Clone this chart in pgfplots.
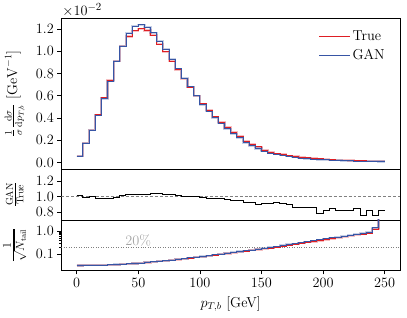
\documentclass[border=0pt]{standalone}
\usepackage{pgfplots}
\pgfplotsset{compat=1.18}
\usepackage{pgfplotstable}
\definecolor{truered}{RGB}{222,30,36}
\definecolor{ganblue}{RGB}{55,85,165}
\newcommand{\fs}{\fontsize{14.5}{17}\selectfont}

% bins of 5 GeV; last row repeats the final bin so const plot closes at 250
% true/gan in units of 1e-2 GeV^-1; nt/ng = 1/sqrt(N_tail)
\pgfplotstableread{
x   true  gan   ratio nt     ng
0   0.056 0.056 1.02  0.0329 0.0329
5   0.174 0.174 0.99  0.0330 0.0330
10  0.289 0.289 1.00  0.0332 0.0332
15  0.430 0.424 0.98  0.0336 0.0336
20  0.582 0.575 0.975 0.0342 0.0342
25  0.741 0.730 0.975 0.0349 0.0349
30  0.912 0.912 0.995 0.0357 0.0358
35  1.044 1.044 1.01  0.0369 0.0370
40  1.133 1.162 1.025 0.0383 0.0384
45  1.183 1.224 1.03  0.0399 0.0401
50  1.203 1.238 1.03  0.0419 0.0421
55  1.186 1.215 1.03  0.0441 0.0444
60  1.145 1.165 1.035 0.0466 0.0469
65  1.062 1.092 1.04  0.0493 0.0497
70  0.994 1.018 1.025 0.0524 0.0529
75  0.909 0.930 1.03  0.0558 0.0564
80  0.836 0.841 1.015 0.0596 0.0603
85  0.752 0.756 1.005 0.0637 0.0645
90  0.677 0.680 1.005 0.0683 0.0693
95  0.600 0.600 1.00  0.0733 0.0745
100 0.529 0.521 0.985 0.0789 0.0803
105 0.471 0.462 0.98  0.0850 0.0867
110 0.411 0.403 0.98  0.0918 0.0938
115 0.364 0.353 0.97  0.0993 0.1017
120 0.314 0.303 0.965 0.1076 0.1104
125 0.273 0.259 0.95  0.117  0.120
130 0.233 0.221 0.95  0.126  0.130
135 0.192 0.179 0.93  0.136  0.141
140 0.161 0.150 0.93  0.147  0.153
145 0.141 0.126 0.895 0.159  0.166
150 0.110 0.100 0.91  0.172  0.180
155 0.093 0.085 0.91  0.186  0.195
160 0.078 0.073 0.93  0.201  0.212
165 0.072 0.065 0.906 0.222  0.236
170 0.062 0.055 0.894 0.243  0.260
175 0.055 0.047 0.855 0.268  0.287
180 0.048 0.041 0.855 0.295  0.316
185 0.042 0.036 0.864 0.324  0.348
190 0.036 0.031 0.855 0.355  0.382
195 0.033 0.026 0.787 0.390  0.420
200 0.029 0.024 0.821 0.428  0.462
205 0.026 0.022 0.851 0.470  0.507
210 0.023 0.019 0.817 0.515  0.556
215 0.021 0.017 0.817 0.565  0.610
220 0.018 0.015 0.817 0.618  0.668
225 0.016 0.014 0.85  0.680  0.735
230 0.016 0.012 0.753 0.745  0.810
235 0.013 0.011 0.821 0.820  0.900
240 0.013 0.010 0.753 1.200  1.380
245 0.011 0.009 0.821 20     20
250 0.011 0.009 0.821 20     20
}\pTb

\begin{document}
\begin{tikzpicture}
\path (0,0) rectangle (407pt,-320pt);
\pgfplotsset{
  panel/.style={
    scale only axis, width=342pt,
    xmin=-12.5, xmax=262.5,
    axis line style={black, line width=0.6pt},
    tick style={black, line width=0.6pt},
    tick align=outside, major tick length=4pt, minor tick length=2.2pt,
    ytick pos=left, xtick pos=bottom,
    ticklabel style={font=\fs},
    label style={font=\fs},
    ylabel style={at={(axis description cs:-0.137,0.5)}, anchor=center},
    clip mode=individual,
  },
  halo/.style={const plot, line width=2.2pt, opacity=0.28, forget plot},
  thin/.style={const plot, line width=0.85pt},
}

\begin{axis}[panel, name=main, at={(58pt,-18pt)}, anchor=north west,
  height=153pt, ymin=-0.062, ymax=1.30,
  ytick={0,0.2,0.4,0.6,0.8,1.0,1.2}, xtick=\empty,
  yticklabel style={/pgf/number format/.cd,fixed,fixed zerofill,precision=1},
  ylabel={$\frac{1}{\sigma}\frac{\mathrm{d}\sigma}{\mathrm{d}p_{T,b}}$ $[\mathrm{GeV}^{-1}]$},
  legend style={draw=none, fill=none, at={(0.97,0.94)}, anchor=north east,
    font=\fs, row sep=3pt, legend cell align=left},
  legend image code/.code={\draw[#1] (0cm,0cm) -- (1.1cm,0cm);},
]
\addplot[halo, truered] table[x=x, y=true] {\pTb};
\addplot[halo, ganblue] table[x=x, y=gan] {\pTb};
\addplot[thin, truered] table[x=x, y=true] {\pTb};
\addlegendentry{True}
\addplot[thin, ganblue] table[x=x, y=gan] {\pTb};
\addlegendentry{GAN}
\end{axis}
\node[anchor=south west, font=\fontsize{15.5}{18}\selectfont, inner sep=1pt] at (main.north west) {$\times10^{-2}$};

\begin{axis}[panel, name=ratio, at={(main.south west)}, anchor=north west,
  height=51pt, ymin=0.7, ymax=1.35, ytick={0.8,1.0,1.2}, xtick=\empty,
  yticklabel style={/pgf/number format/.cd,fixed,fixed zerofill,precision=1},
  ylabel={$\frac{\mathrm{GAN}}{\mathrm{True}}$},
]
\addplot[gray, line width=0.6pt, dash pattern=on 3pt off 2pt, forget plot]
  coordinates {(-12.5,1) (262.5,1)};
\addplot[const plot, black, line width=0.9pt] table[x=x, y=ratio] {\pTb};
\end{axis}

\begin{axis}[panel, name=tail, at={(ratio.south west)}, anchor=north west,
  height=51pt, ymode=log, ymin=0.02, ymax=3,
  ytick={0.1,1}, yticklabels={$0.1$,$1.0$},
  xtick={0,50,100,150,200,250},
  ylabel={$\frac{1}{\sqrt{N_\mathrm{tail}}}$},
  ylabel style={font=\fontsize{17}{19}\selectfont},
  xlabel={$p_{T,b}$ [GeV]},
  xlabel style={at={(axis description cs:0.5,-0.66)}, anchor=center},
]
\addplot[gray, line width=0.6pt, dash pattern=on 1pt off 1.5pt, forget plot]
  coordinates {(-12.5,0.2) (262.5,0.2)};
\node[gray!70, font=\fs, anchor=south, inner sep=1pt] at (axis cs:50,0.2) {20\%};
\addplot[halo, truered] table[x=x, y=nt] {\pTb};
\addplot[halo, ganblue] table[x=x, y=ng] {\pTb};
\addplot[thin, truered] table[x=x, y=nt] {\pTb};
\addplot[thin, ganblue] table[x=x, y=ng] {\pTb};
\end{axis}
\end{tikzpicture}
\end{document}
